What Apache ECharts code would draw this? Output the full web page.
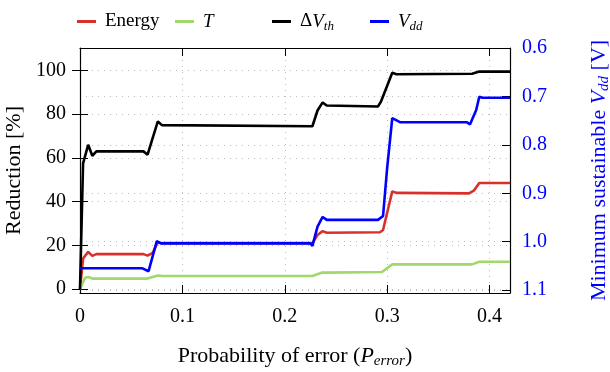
<!DOCTYPE html>
<html>
<head>
<meta charset="utf-8">
<script src="https://cdn.jsdelivr.net/npm/echarts@6/dist/echarts.min.js"></script>
<style>
  html, body { margin: 0; padding: 0; background: #ffffff; }
  #chart { width: 610px; height: 372px; }
</style>
</head>
<body>
<div id="chart"></div>
<script>
// values
const energyX = [0, 0.003, 0.008, 0.012, 0.016, 0.062, 0.066, 0.071, 0.076, 0.080, 0.227, 0.232, 0.237, 0.241, 0.293, 0.296, 0.305, 0.309, 0.380, 0.385, 0.390, 0.42];
const energyY = [0, 14, 17, 15.2, 16, 16, 15.3, 16.6, 21.4, 21, 21, 24.7, 26.5, 25.8, 26, 27, 44.7, 44, 43.8, 45.2, 48.5, 48.5];

const tX = [0, 0.005, 0.008, 0.012, 0.066, 0.076, 0.080, 0.227, 0.236, 0.240, 0.295, 0.305, 0.383, 0.390, 0.42];
const tY = [0, 5.2, 5.5, 4.8, 4.8, 6.2, 6, 6, 7.5, 7.5, 7.8, 11.3, 11.3, 12.5, 12.5];

const dvthX = [0, 0.003, 0.008, 0.012, 0.016, 0.062, 0.066, 0.076, 0.080, 0.227, 0.232, 0.237, 0.241, 0.291, 0.294, 0.305, 0.309, 0.383, 0.390, 0.42];
const dvthY = [0, 57.5, 66, 61, 63, 63, 61.5, 76.7, 75, 74.5, 81.7, 85.4, 84, 83.5, 85.8, 99, 98.3, 98.5, 99.5, 99.5];

const vddX = [0, 0.061, 0.067, 0.075, 0.079, 0.225, 0.227, 0.232, 0.237, 0.241, 0.291, 0.296, 0.300, 0.305, 0.313, 0.378, 0.381, 0.387, 0.390, 0.393, 0.42];
const vddY = [1.055, 1.055, 1.061, 0.999, 1.0035, 1.0035, 1.0085, 0.969, 0.949, 0.955, 0.955, 0.947, 0.848, 0.745, 0.7535, 0.7535, 0.7576, 0.728, 0.7006, 0.7027, 0.7027];

const reductionTicks = [0, 20, 40, 60, 80, 100];
const legendNames = ["Energy", "T", "ΔVth", "Vdd"];
const legendLeft = [77, 175, 272, 370];

const FONT = '"Liberation Serif", "DejaVu Serif", serif';
const TICK_SIZE = 20;
const NAME_SIZE = 22;

function richFor(size, color) {
  return {
    n: { fontFamily: FONT, fontSize: size, color: color },
    i: { fontFamily: FONT, fontSize: size, fontStyle: "italic", color: color },
    s: { fontFamily: FONT, fontSize: Math.round(size * 0.7), fontStyle: "italic", color: color, padding: [Math.round(size * 0.5), 0, 0, 0] },
  };
}
const legendLabels = {
  Energy: "{n|Energy}",
  T: "{i|T}",
  "ΔVth": "{n|Δ}{i|V}{s|th}",
  Vdd: "{i|V}{s|dd}",
};

function pairs(xs, ys) {
  return xs.map((x, i) => [x, ys[i]]);
}

const gridLine = { show: true, lineStyle: { color: "#bdbdbd", type: [1, 5], width: 1 } };
const frame = { show: true, onZero: false, lineStyle: { color: "#000", width: 1.2 } };
const innerTick = { show: true, inside: true, length: 8, lineStyle: { color: "#000", width: 1 } };

const chart = echarts.init(document.getElementById("chart"));

chart.setOption({
  animation: false,
  legend: legendNames.map((name, i) => ({
    data: [name],
    left: legendLeft[i],
    top: 12,
    padding: 0,
    icon: "rect",
    itemWidth: 19,
    itemHeight: 3,
    selectedMode: false,
    formatter: (n) => legendLabels[n],
    textStyle: { fontFamily: FONT, fontSize: 19, color: "#000", padding: [0, 0, 0, 4], rich: richFor(19, "#000") },
  })),
  grid: { left: 80, right: 100, top: 48, bottom: 79, containLabel: false, outerBoundsMode: "none" },
  xAxis: [
    {
      type: "value",
      min: 0,
      max: 0.42,
      interval: 0.1,
      position: "bottom",
      axisLine: frame,
      axisTick: innerTick,
      axisLabel: {
        margin: 14,
        fontFamily: FONT,
        fontSize: TICK_SIZE,
        color: "#000",
        showMaxLabel: false,
        formatter: (v) => (v === 0 ? "0" : v.toFixed(1)),
      },
      splitLine: gridLine,
      name: "{n|Probability of error (}{i|P}{s|error}{n|)}",
      nameLocation: "middle",
      nameGap: 50,
      nameTextStyle: { color: "#000", rich: richFor(NAME_SIZE, "#000") },
    },
    {
      type: "value",
      min: 0,
      max: 0.42,
      interval: 0.1,
      position: "top",
      axisLine: frame,
      axisTick: innerTick,
      axisLabel: { show: false },
      splitLine: { show: false },
    },
  ],
  yAxis: [
    {
      type: "value",
      min: -1.8,
      max: 110.3,
      position: "left",
      axisLine: frame,
      axisTick: { ...innerTick, customValues: reductionTicks },
      axisLabel: {
        customValues: reductionTicks,
        margin: 14,
        fontFamily: FONT,
        fontSize: TICK_SIZE,
        color: "#000",
      },
      splitLine: gridLine,
      name: "Reduction [%]",
      nameLocation: "middle",
      nameRotate: 90,
      nameGap: 46,
      nameTextStyle: { fontFamily: FONT, fontSize: NAME_SIZE, color: "#000" },
    },
    {
      type: "value",
      min: 0.6,
      max: 1.106,
      interval: 0.1,
      inverse: true,
      position: "right",
      axisLine: frame,
      axisTick: innerTick,
      axisLabel: {
        margin: 12,
        fontFamily: FONT,
        fontSize: TICK_SIZE,
        color: "#0000ff",
        showMaxLabel: false,
        formatter: (v) => v.toFixed(1),
      },
      splitLine: gridLine,
      name: "{n|Minimum sustainable }{i|V}{s|dd}{n| [V]}",
      nameLocation: "middle",
      nameRotate: 90,
      nameGap: 76,
      nameTextStyle: { color: "#0000ff", rich: richFor(NAME_SIZE, "#0000ff") },
    },
    {
      // left-axis ticks repeated on the right frame
      type: "value",
      min: -1.8,
      max: 110.3,
      position: "right",
      axisLine: { show: false },
      axisTick: { ...innerTick, customValues: reductionTicks },
      axisLabel: { show: false },
      splitLine: { show: false },
    },
  ],
  series: [
    { name: "Energy", data: pairs(energyX, energyY), color: "#d8312b", yAxisIndex: 0 },
    { name: "T", data: pairs(tX, tY), color: "#9fd96c", yAxisIndex: 0 },
    { name: "ΔVth", data: pairs(dvthX, dvthY), color: "#000000", yAxisIndex: 0 },
    { name: "Vdd", data: pairs(vddX, vddY), color: "#0000ff", yAxisIndex: 1 },
  ].map((s) => ({
    ...s,
    type: "line",
    showSymbol: false,
    symbol: "none",
    lineStyle: { width: 2.6, color: s.color },
  })),
});
</script>
</body>
</html>
